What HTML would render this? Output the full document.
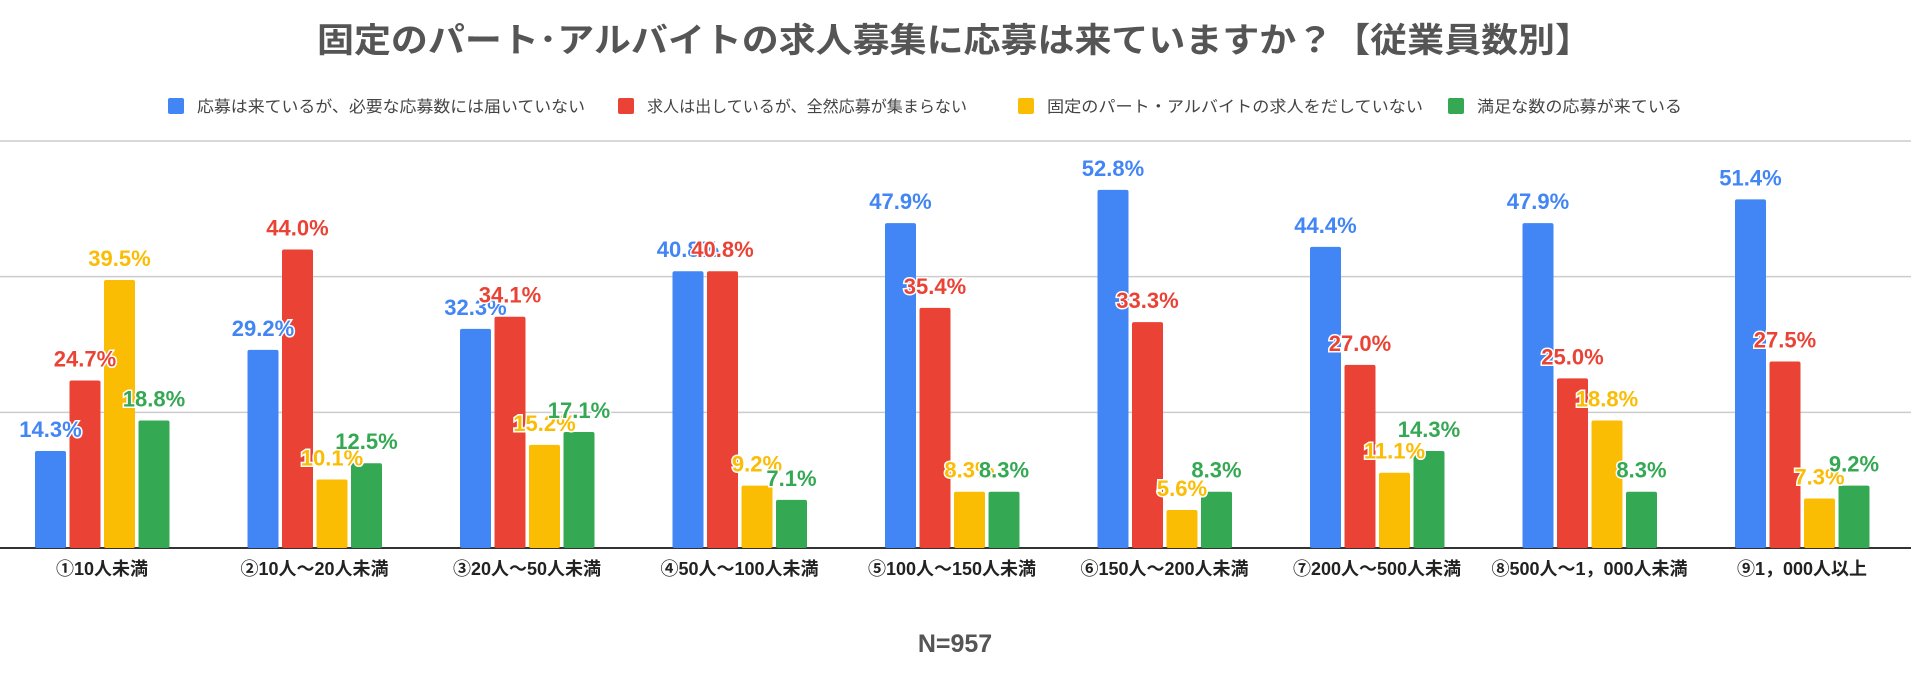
<!DOCTYPE html>
<html><head><meta charset="utf-8"><style>
body{margin:0;background:#fff;width:1911px;height:668px;overflow:hidden;font-family:"Liberation Sans","Noto Sans CJK JP",sans-serif}
</style></head><body>
<svg id="chart" width="1911" height="668" xmlns="http://www.w3.org/2000/svg">
<text x="317" y="52" textLength="1275" lengthAdjust="spacingAndGlyphs" font-size="34" font-weight="bold" fill="#555" font-family="Liberation Sans, Noto Sans CJK JP, sans-serif">固定のパート･アルバイトの求人募集に応募は来ていますか？【従業員数別】</text>
<g id="legend"></g>
<g id="grid"></g>
<g id="bars"></g>
<g id="labels"></g>
<g id="cats"></g>
<text x="955" y="652" text-anchor="middle" font-size="25" font-weight="bold" fill="#555" font-family="Liberation Sans, sans-serif">N=957</text>
</svg>
<script>
const categories=["①10人未満","②10人～20人未満","③20人～50人未満","④50人～100人未満","⑤100人～150人未満","⑥150人～200人未満","⑦200人～500人未満","⑧500人～1，000人未満","⑨1，000人以上"];
const seriesNames=["応募は来ているが、必要な応募数には届いていない","求人は出しているが、全然応募が集まらない","固定のパート・アルバイトの求人をだしていない","満足な数の応募が来ている"];
const blueVals=[14.3,29.2,32.3,40.8,47.9,52.8,44.4,47.9,51.4];
const redVals=[24.7,44.0,34.1,40.8,35.4,33.3,27.0,25.0,27.5];
const yellowVals=[39.5,10.1,15.2,9.2,8.3,5.6,11.1,18.8,7.3];
const greenVals=[18.8,12.5,17.1,7.1,8.3,8.3,14.3,8.3,9.2];
const gridTicks=[0,20,40,60];
const colors=["#4285f4","#ea4335","#fbbc04","#34a853"];
const series=[blueVals,redVals,yellowVals,greenVals];
const NS="http://www.w3.org/2000/svg";
const baseY=548, pxPer=(548-141)/60;
const y=v=>baseY-v*pxPer;
const groupX=i=>35+i*212.5;
const barW=31, pitch=34.5;
function mk(tag,attrs,parent){const e=document.createElementNS(NS,tag);for(const k in attrs)e.setAttribute(k,attrs[k]);parent.appendChild(e);return e;}
const grid=document.getElementById('grid');
gridTicks.forEach(t=>{
  const l=mk('line',{x1:0,x2:1911,y1:y(t),y2:y(t),stroke:t===0?'#333':'#ccc','stroke-width':t===0?2:1.5},grid);
  
  
});
const bars=document.getElementById('bars'),labels=document.getElementById('labels'),cats=document.getElementById('cats');
categories.forEach((c,i)=>{
  series.forEach((s,j)=>{
    const x=groupX(i)+j*pitch, v=s[i];
    const r=mk('rect',{x:x,y:y(v),width:barW,height:baseY-y(v),fill:colors[j],rx:2},bars);
    
    
    const t=mk('text',{x:x+barW/2,y:y(v)-14,'text-anchor':'middle','font-size':22,'font-weight':'bold',fill:colors[j],stroke:'#fff','stroke-width':3,'paint-order':'stroke'},labels);
    t.textContent=v.toFixed(1)+'%';
    
    
  });
  const ct=mk('text',{x:groupX(i)+67,y:575,'text-anchor':'middle','font-size':18,'font-weight':'bold',fill:'#222'},cats);
  ct.textContent=c;
  
  
});
const legend=document.getElementById('legend');
const legX=[168,618,1018,1448];
const legW=[388,320,376,205];
seriesNames.forEach((n,j)=>{
  const r=mk('rect',{x:legX[j],y:98,width:16,height:16,rx:2,fill:colors[j]},legend);
  
  
  const t=mk('text',{x:legX[j]+29,y:112,'font-size':16,fill:'#444',textLength:legW[j],lengthAdjust:'spacingAndGlyphs'},legend);
  t.textContent=n;
  
  
});
</script>
</body></html>
